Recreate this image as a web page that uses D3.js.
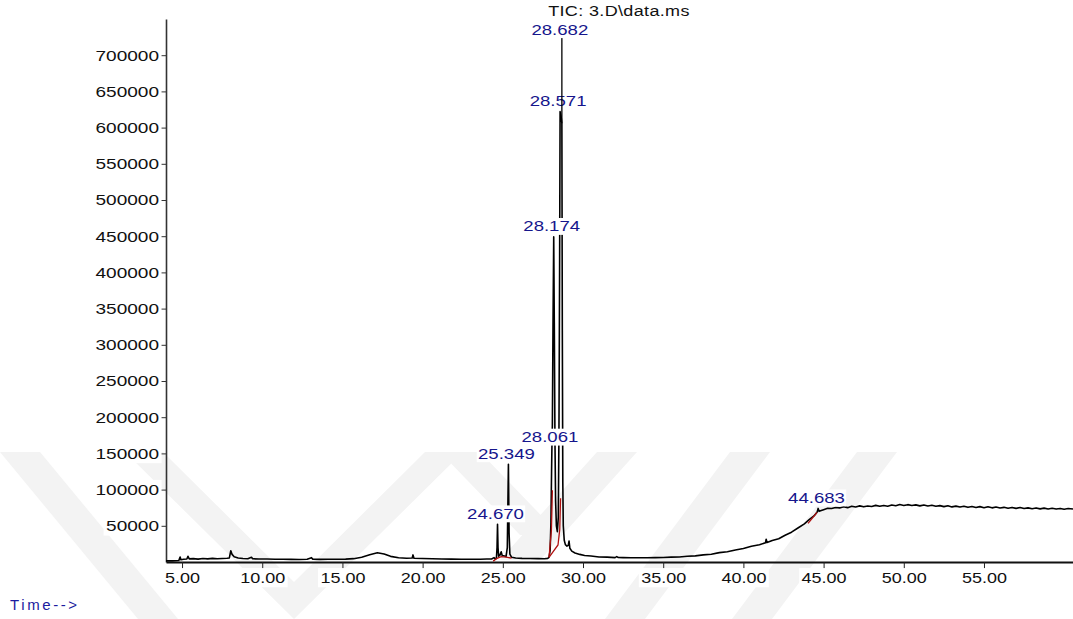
<!DOCTYPE html>
<html>
<head>
<meta charset="utf-8">
<script src="https://cdn.jsdelivr.net/npm/d3@7"></script>
<style>
  body { margin: 0; background: #fff; }
  svg text { font-family: "Liberation Sans", Arial, sans-serif; }
</style>
</head>
<body>
<svg id="chart"></svg>
<script>
// total ion chromatogram, [time (min), abundance]
const tic = [
  [4.00,1500],[4.40,1600],[4.80,2000],[4.88,6800],[4.93,3200],[5.10,3800],[5.30,4200],[5.37,7800],
  [5.45,4300],[5.70,4600],[6.00,4000],[6.30,4800],[6.60,4300],[6.90,5000],[7.20,4400],[7.50,4900],
  [7.80,5200],[7.95,5600],[8.04,15500],[8.12,10500],[8.25,7200],[8.50,5600],[8.80,4800],[9.10,4500],
  [9.33,6600],[9.40,4400],[9.80,4200],[10.30,4100],[10.80,3900],[11.30,3700],[11.80,3600],[12.30,3500],
  [12.80,3700],[13.07,6000],[13.15,4000],[13.60,3600],[14.10,3700],[14.60,3800],[15.20,4000],[15.70,4600],
  [16.20,6500],[16.70,10000],[17.18,12800],[17.60,11000],[18.00,7800],[18.50,5800],[19.00,5200],[19.35,5600],
  [19.40,9800],[19.46,5200],[20.00,4800],[20.60,4500],[21.20,4200],[21.80,4000],[22.40,3900],[23.00,3800],
  [23.60,3900],[24.00,4100],[24.30,4200],[24.45,6000],[24.52,4500],[24.60,5000],[24.64,20000],[24.67,52000],
  [24.70,20000],[24.74,8000],[24.82,9500],[24.90,14000],[24.96,9000],[25.05,8500],[25.20,7500],[25.28,20000],
  [25.349,135000],[25.39,40000],[25.44,11000],[25.55,6500],[25.80,5500],[26.20,5000],[26.70,4800],[27.20,4600],
  [27.60,4500],[27.80,5000],[27.88,6500],[27.95,16000],[28.00,55000],[28.04,125000],[28.061,158000],[28.09,190000],
  [28.13,330000],[28.174,449000],[28.21,330000],[28.25,170000],[28.29,85000],[28.34,50000],[28.40,42000],[28.46,62000],
  [28.50,180000],[28.54,400000],[28.571,622000],[28.63,616000],[28.682,606000],[28.71,320000],[28.74,110000],[28.77,50000],
  [28.83,30000],[28.90,24000],[29.00,22000],[29.08,23000],[29.13,29000],[29.18,19000],[29.30,15000],[29.50,12500],
  [29.80,10500],[30.10,9000],[30.50,8200],[31.00,7000],[31.50,6800],[32.00,6100],[32.10,7400],[32.20,6200],
  [32.50,6000],[33.00,5800],[33.50,5900],[34.00,5800],[34.50,6100],[35.00,6200],[35.50,6700],[36.00,7000],
  [36.50,7900],[37.00,8500],[37.50,9900],[38.00,10800],[38.50,12900],[39.00,14100],[39.50,16600],[40.00,18600],
  [40.50,21700],[41.00,23800],[41.38,26600],[41.42,31500],[41.47,27000],[41.80,29800],[42.20,32200],[42.60,37000],
  [43.00,41200],[43.40,47000],[43.80,52600],[44.10,58400],[44.40,63600],[44.60,69200],[44.66,74000],[44.72,70000],
  [44.90,71500],[45.00,72300],[45.25,74100],[45.50,73800],[45.75,75300],[46.00,74700],[46.25,76400],[46.50,75100],
  [46.75,77100],[47.00,75900],[47.25,77500],[47.50,76200],[47.75,77300],[48.00,76600],[48.25,78200],[48.50,76900],
  [48.75,78100],[49.00,77000],[49.25,78700],[49.50,77600],[49.75,79300],[50.00,78000],[50.25,79200],[50.50,78100],
  [50.75,78900],[51.00,77500],[51.25,78800],[51.50,77300],[51.75,78300],[52.00,76900],[52.25,77900],[52.50,76500],
  [52.75,77600],[53.00,76100],[53.25,77200],[53.50,75900],[53.75,77000],[54.00,75500],[54.25,76600],[54.50,75300],
  [54.75,76500],[55.00,75000],[55.25,76200],[55.50,74800],[55.75,75900],[56.00,74600],[56.25,75500],[56.50,74300],
  [56.75,75400],[57.00,74100],[57.25,75200],[57.50,73800],[57.75,74800],[58.00,73600],[58.25,74700],[58.50,73400],
  [58.75,74400],[59.00,73200],[59.25,74200],[59.50,73100],[59.75,74000],[60.00,72900],[60.25,73800],[60.55,73200]
];

// integrated peaks
const peakLabels = ['24.670', '25.349', '28.061', '28.174', '28.571', '28.682', '44.683'];
const peakHeights = [52000, 135000, 158000, 449000, 622000, 606000, 74000];

// integration baselines (red)
const baselines = [
  [[24.40,1200],[24.60,4600],[24.90,7300],[25.20,6800],[25.55,5200]],
  [[27.88,6500],[28.03,44000],[28.09,99000]],
  [[27.88,6500],[28.44,23500],[28.55,45000],[28.60,88000]],
  [[44.03,53400],[44.59,68600]]
];

const xLabelTicks = [5, 10, 15, 20, 25, 30, 35, 40, 45, 50, 55];
const yLabelTicks = [50000, 100000, 150000, 200000, 250000, 300000, 350000,
  400000, 450000, 500000, 550000, 600000, 650000, 700000];

const title = 'TIC: 3.D\\data.ms';
const xTitle = 'Time-->';

/////////////////////////

const W = 1073, H = 619;
const svg = d3.select('#chart').attr('width', W).attr('height', H);

// faint thesis watermark behind everything
const watermark = [
  [[0,452],[40,452],[178,619],[138,619]],
  [[125,452],[163,452],[294,582],[425,452],[463,452],[294,619]],
  [[440,452],[480,452],[560,535],[520,535]],
  [[597,452],[637,452],[540,560],[500,560]],
  [[730,452],[770,452],[645,619],[605,619]],
  [[857,452],[897,452],[772,619],[732,619]]
];
svg.append('g').selectAll('polygon').data(watermark).enter().append('polygon')
  .attr('points', (d) => d.map((p) => p.join(',')).join(' '))
  .style('fill', '#f3f3f3');

const x = d3.scaleLinear().domain([4, 60.55]).range([166, 1073]);
const y = d3.scaleLinear().domain([0, 750000]).range([562, 19]);

// stretch text horizontally like the instrument print-out
function widen(textSel, sx) {
  textSel.each(function () {
    const t = d3.select(this);
    const x0 = +t.attr('x') || 0;
    t.attr('x', x0 / sx).attr('transform', `scale(${sx},1)`);
  });
}
// white box behind a text, same transform
function backBox(textSel, pad) {
  textSel.each(function () {
    const b = this.getBBox();
    d3.select(this.parentNode).insert('rect', () => this)
      .attr('x', b.x - pad).attr('y', b.y - pad + 1)
      .attr('width', b.width + pad * 2).attr('height', b.height + pad * 2 - 2)
      .attr('transform', d3.select(this).attr('transform'))
      .style('fill', '#fff');
  });
}

// y axis
const gY = svg.append('g').attr('transform', `translate(${x(4)},0)`);
gY.call(d3.axisLeft(y).tickValues(d3.range(0, 750001, 10000)).tickSize(3).tickSizeOuter(0).tickFormat(''));
gY.call(d3.axisLeft(y).tickValues(yLabelTicks).tickSize(6).tickSizeOuter(0).tickPadding(1).tickFormat(d3.format('d')));
gY.selectAll('path.domain').style('stroke', '#333').style('stroke-width', 1.6);
gY.selectAll('line').style('stroke', '#333');
gY.selectAll('text').style('font-size', '15px').style('fill', '#111')
  .style('font-family', '"Liberation Sans", Arial, sans-serif');
widen(gY.selectAll('text'), 1.27);
backBox(gY.selectAll('text'), 2);

// x axis
const gX = svg.append('g').attr('transform', `translate(0,${y(0)})`);
gX.call(d3.axisBottom(x).tickValues(d3.range(5, 61, 1)).tickSize(5).tickSizeOuter(0).tickFormat(''));
gX.call(d3.axisBottom(x).tickValues(xLabelTicks).tickSize(7).tickSizeOuter(0).tickPadding(3).tickFormat(d3.format('.2f')));
gX.selectAll('path.domain').style('stroke', '#111').style('stroke-width', 2);
gX.selectAll('line').style('stroke', '#222');
gX.selectAll('text').style('font-size', '15px').style('fill', '#111')
  .style('font-family', '"Liberation Sans", Arial, sans-serif');
widen(gX.selectAll('text'), 1.2);
backBox(gX.selectAll('text'), 2);

// trace
const line = d3.line().x((d) => x(d[0])).y((d) => y(d[1]));
svg.append('path').datum(tic)
  .attr('d', line)
  .style('fill', 'none').style('stroke', '#000').style('stroke-width', 1.6)
  .style('stroke-linejoin', 'round');

svg.append('g').selectAll('path').data(baselines).enter().append('path')
  .attr('d', line)
  .style('fill', 'none').style('stroke', '#b01010').style('stroke-width', 1.3);

// peak labels; 28.682 is pushed to the top with a leader line
const raised = {'28.682': 736000};
const gP = svg.append('g');
peakLabels.forEach((lab, i) => {
  const px = x(+lab);
  const apexY = y(peakHeights[i]);
  const cy = raised[lab] ? y(raised[lab]) : apexY - 11;
  if (raised[lab]) {
    gP.append('line').attr('x1', px).attr('x2', px).attr('y1', cy + 8).attr('y2', apexY)
      .style('stroke', '#000').style('stroke-width', 1.3);
  }
  const g = gP.append('g');
  const t = g.append('text')
    .attr('x', px - 2).attr('y', cy).attr('dy', '0.36em')
    .attr('text-anchor', 'middle')
    .style('font-size', '15px').style('fill', '#16168c')
    .text(lab);
  t.attr('x', (px - 2) / 1.24).attr('transform', 'scale(1.24,1)');
  backBox(t, 1);
});

// title and axis caption
svg.append('text').attr('x', 619 / 1.2).attr('y', 16).attr('text-anchor', 'middle')
  .attr('transform', 'scale(1.2,1)')
  .style('font-size', '15px').style('fill', '#111').style('letter-spacing', '0.3px')
  .text(title);

svg.append('text').attr('x', 10).attr('y', 610)
  .style('font-size', '15px').style('fill', '#1b1b9f').style('letter-spacing', '2.6px')
  .text(xTitle);
</script>
</body>
</html>
